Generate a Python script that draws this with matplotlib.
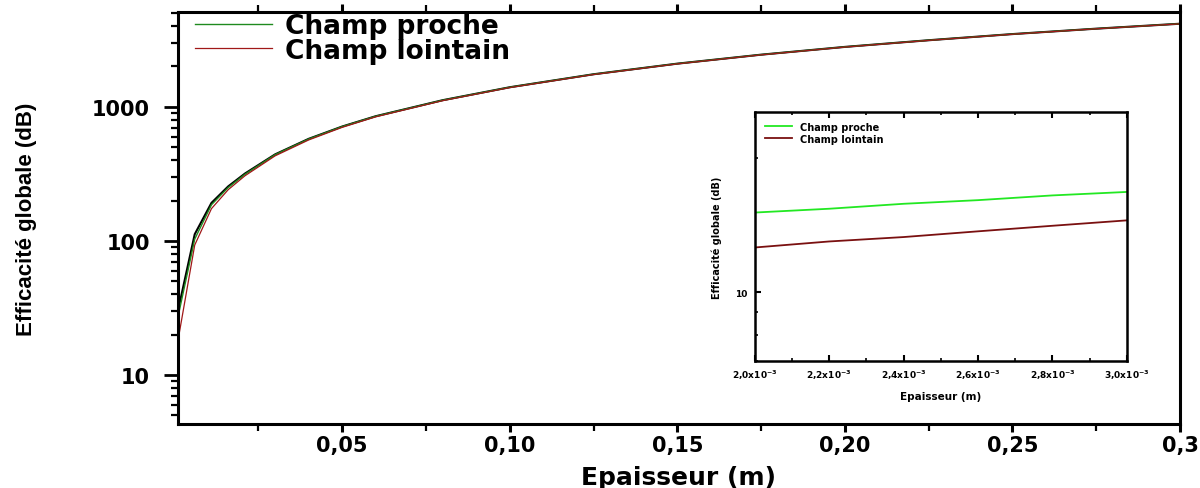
import matplotlib
matplotlib.use('Agg')
import matplotlib.pyplot as plt
from matplotlib.ticker import FixedLocator, MultipleLocator, LogLocator, NullFormatter

# Main chart data
epaisseur = [0.001, 0.006, 0.011, 0.016, 0.021, 0.03, 0.04, 0.05, 0.06, 0.08,
             0.10, 0.125, 0.15, 0.175, 0.20, 0.225, 0.25, 0.275, 0.30]
champ_noir = [30, 112, 192, 255, 318, 442, 577, 713, 851, 1121,
              1400, 1750, 2100, 2450, 2800, 3140, 3490, 3830, 4170]
champ_proche = [27, 103, 186, 250, 314, 440, 575, 712, 850, 1120,
                1400, 1750, 2100, 2450, 2800, 3140, 3490, 3830, 4170]
champ_lointain = [18, 93, 174, 241, 306, 431, 566, 703, 842, 1112,
                  1392, 1742, 2092, 2442, 2792, 3132, 3482, 3822, 4162]

# Inset data
ep_zoom = [2.0e-3, 2.2e-3, 2.4e-3, 2.6e-3, 2.8e-3, 3.0e-3]
proche_zoom = [15.1, 15.4, 15.8, 16.1, 16.5, 16.8]
lointain_zoom = [12.6, 13.0, 13.3, 13.7, 14.1, 14.5]

xticks_main = [0.05, 0.10, 0.15, 0.20, 0.25, 0.30]
xlabels_main = ['0,05', '0,10', '0,15', '0,20', '0,25', '0,3']
xlabels_zoom = [r'2,0x10$^{\mathbf{-3}}$', r'2,2x10$^{\mathbf{-3}}$', r'2,4x10$^{\mathbf{-3}}$',
                r'2,6x10$^{\mathbf{-3}}$', r'2,8x10$^{\mathbf{-3}}$', r'3,0x10$^{\mathbf{-3}}$']

plt.rcParams['font.family'] = ['DejaVu Sans']
plt.rcParams['mathtext.default'] = 'bf'

fig = plt.figure(figsize=(12, 4.89), dpi=100)
ax = fig.add_axes([0.1483, 0.1309, 0.835, 0.8425])

ax.plot(epaisseur, champ_noir, color='black', lw=1.5)
ax.plot(epaisseur, champ_proche, color='#1f8a1f', lw=1.0, label='Champ proche')
ax.plot(epaisseur, champ_lointain, color='#a01818', lw=0.9, label='Champ lointain')

ax.set_yscale('log')
ax.set_xlim(0.001, 0.3)
ax.set_ylim(4.3, 5100)
ax.set_yticks([10, 100, 1000])
ax.set_yticklabels(['10', '100', '1000'])
ax.yaxis.set_minor_locator(LogLocator(base=10, subs=range(2, 10)))
ax.yaxis.set_minor_formatter(NullFormatter())
ax.xaxis.set_major_locator(FixedLocator(xticks_main))
ax.set_xticklabels(xlabels_main)
ax.xaxis.set_minor_locator(MultipleLocator(0.025))

for s in ax.spines.values():
    s.set_linewidth(2.2)
ax.tick_params(axis='x', which='major', direction='out', length=6, width=2.2,
               labelsize=15, pad=2)
ax.tick_params(axis='y', which='major', direction='out', length=10, width=2,
               labelsize=15, pad=10)
ax.tick_params(axis='both', which='minor', direction='out', length=5, width=1.6)
ax.tick_params(axis='x', which='both', top=True)
for lab in ax.get_xticklabels() + ax.get_yticklabels():
    lab.set_fontweight('bold')

ax.set_xlabel('Epaisseur (m)', fontsize=18, fontweight='bold', labelpad=7)
ax.set_ylabel('Efficacité globale (dB)', fontsize=16, fontweight='bold',
              family=['Liberation Sans', 'DejaVu Sans'], labelpad=40)

leg = ax.legend(loc='upper left', frameon=False, prop={'size': 19, 'weight': 'bold'},
                handlelength=2.9, handletextpad=0.5, borderaxespad=0.1, labelspacing=-0.05,
                bbox_to_anchor=(0.004, 1.03))

# Inset
axi = fig.add_axes([0.629, 0.2597, 0.31, 0.509])
axi.plot(ep_zoom, proche_zoom, color='#22e822', lw=1.3, label='Champ proche')
axi.plot(ep_zoom, lointain_zoom, color='#7a1010', lw=1.3, label='Champ lointain')
axi.set_yscale('log')
axi.set_xlim(2.0e-3, 3.0e-3)
axi.set_ylim(7.0, 25.4)
axi.set_yticks([10])
axi.set_yticklabels(['10'])
axi.yaxis.set_minor_locator(LogLocator(base=10, subs=range(2, 10)))
axi.yaxis.set_minor_formatter(NullFormatter())
axi.set_xticks(ep_zoom)
axi.set_xticklabels(xlabels_zoom)
axi.xaxis.set_minor_locator(MultipleLocator(1e-4))
for s in axi.spines.values():
    s.set_linewidth(1.8)
axi.tick_params(axis='both', which='major', direction='in', length=4, width=1.5,
                labelsize=6.5, pad=5)
axi.tick_params(axis='both', which='minor', direction='in', length=2.5, width=1.2)
axi.tick_params(axis='x', which='both', top=True)
for lab in axi.get_xticklabels() + axi.get_yticklabels():
    lab.set_fontweight('bold')
axi.set_xlabel('Epaisseur (m)', fontsize=7.5, fontweight='bold', labelpad=7)
axi.set_ylabel('Efficacité globale (dB)', fontsize=7, fontweight='bold', labelpad=10)
axi.legend(loc='upper left', frameon=False, prop={'size': 7, 'weight': 'bold'},
           handlelength=2.8, borderaxespad=0.6, labelspacing=0.2)

fig.savefig('out.png', dpi=100)
